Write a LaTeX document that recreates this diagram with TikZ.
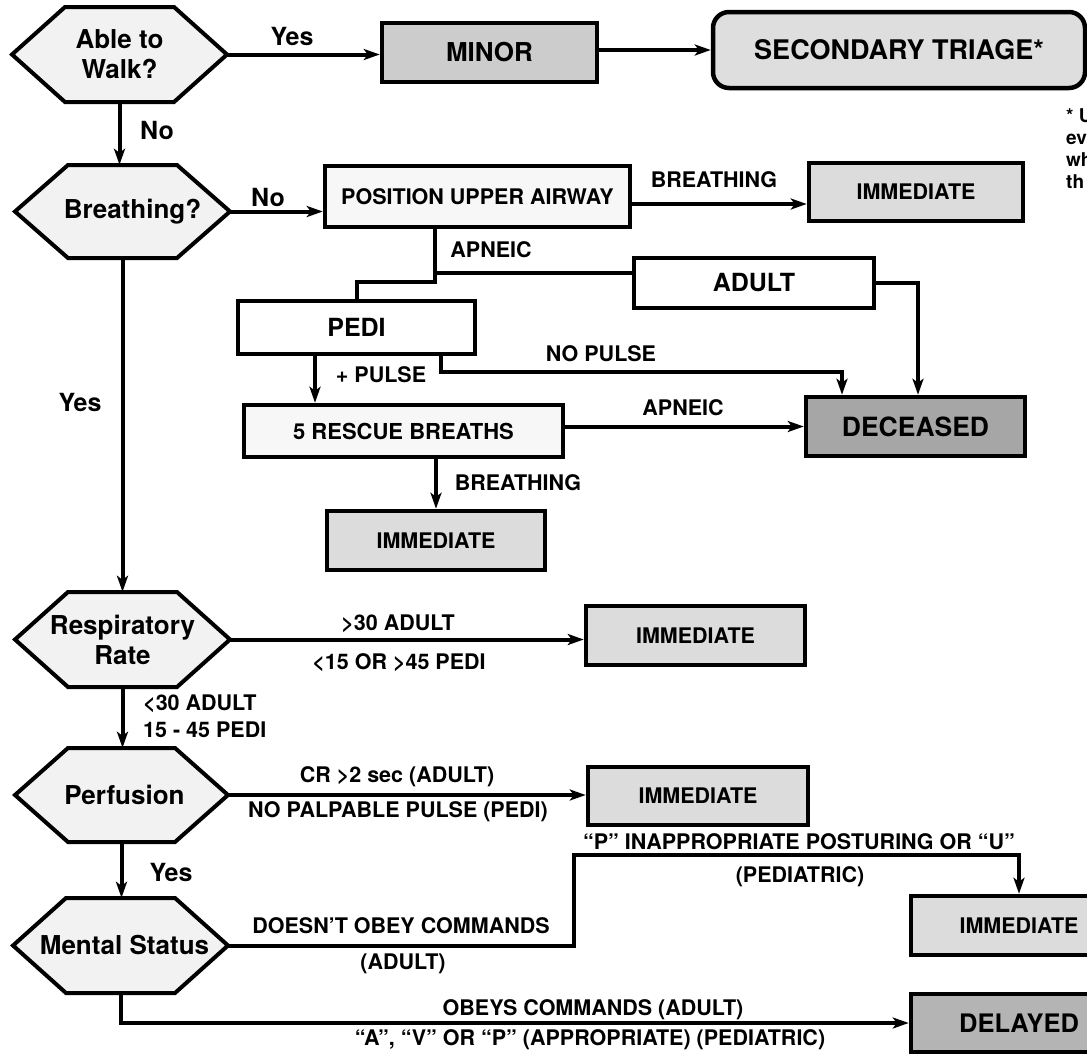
\documentclass[tikz,border=0pt]{standalone}
\usepackage{fontspec}
\setmainfont{TeX Gyre Heros}
\usetikzlibrary{arrows.meta,calc}
\definecolor{hexfill}{HTML}{F2F2F2}
\definecolor{palefill}{HTML}{F7F7F7}
\definecolor{minorfill}{HTML}{CCCCCC}
\definecolor{secfill}{HTML}{DEDEDE}
\definecolor{immfill}{HTML}{DCDCDC}
\definecolor{deadfill}{HTML}{A6A6A6}
\definecolor{delfill}{HTML}{B4B4B4}
\newcommand\triagehex[6]{%
  \draw[hexline] (#2-#4/2,#3) -- (#2-#4/2+53,#3-#5/2) -- (#2+#4/2-53,#3-#5/2)
     -- (#2+#4/2,#3) -- (#2+#4/2-53,#3+#5/2) -- (#2-#4/2+53,#3+#5/2) -- cycle;
  \node[hextext, minimum width=#4pt, minimum height=#5pt] (#1) at (#2,#3) {#6};}
\begin{document}
\begin{tikzpicture}[x=1pt,y=-1pt,
  hexline/.style={draw=black, line width=4pt, fill=hexfill, line join=miter},
  hextext/.style={inner sep=0pt, align=center, font=\bfseries\fontsize{26}{30}\selectfont},
  tbox/.style={draw=black, line width=4.5pt, inner sep=0pt, align=center},
  bigtxt/.style={font=\bfseries\fontsize{26}{30}\selectfont},
  midtxt/.style={font=\bfseries\fontsize{25}{28}\selectfont},
  smalltxt/.style={font=\bfseries\fontsize{21.5}{24}\selectfont},
  lab/.style={inner sep=0pt, anchor=base, font=\bfseries\fontsize{21.5}{24}\selectfont},
  notetxt/.style={inner sep=0pt, anchor=base west, font=\bfseries\fontsize{19}{22}\selectfont},
  yn/.style={inner sep=0pt, anchor=base, font=\bfseries\fontsize{25}{28}\selectfont},
  conn/.style={line width=4pt},
  arr/.style={conn, -{Stealth[length=16pt,width=11pt,inset=4pt]}}]
\useasboundingbox (0,0) rectangle (1087,1053);
\clip (0,0) rectangle (1087,1053);

% decision hexagons
\triagehex{walk}{119.5}{54.5}{215}{95}{Able to\\Walk?}
\triagehex{breath}{122.5}{211.5}{215}{93}{\hspace*{20pt}Breathing?}
\triagehex{resp}{122.5}{639.5}{215}{95}{Respiratory\\Rate}
\triagehex{perf}{121.5}{795}{213}{94}{\hspace*{6pt}Perfusion}
\triagehex{mental}{120.5}{945.5}{215}{95}{\hspace*{8pt}Mental Status}

% boxes
\node[tbox, bigtxt, fill=minorfill, minimum width=215pt, minimum height=59pt] (minor) at (489.5,52.5) {MINOR};
\node[tbox, font=\bfseries\fontsize{27}{30}\selectfont, fill=secfill, rounded corners=16pt, minimum width=372pt, minimum height=76pt] (sec) at (899,50) {SECONDARY TRIAGE*};
\node[tbox, smalltxt, fill=palefill, minimum width=305pt, minimum height=61pt] (position) at (477.5,196.5) {POSITION UPPER AIRWAY};
\node[tbox, smalltxt, fill=immfill, minimum width=214pt, minimum height=58pt] (imm1) at (916,192) {IMMEDIATE};
\node[tbox, midtxt, fill=white, minimum width=240pt, minimum height=50pt] (adult) at (754,283) {ADULT};
\node[tbox, midtxt, fill=white, minimum width=237pt, minimum height=53pt] (pedi) at (356.5,327.5) {PEDI};
\node[tbox, font=\bfseries\fontsize{22}{24}\selectfont, fill=palefill, minimum width=319pt, minimum height=52pt] (rescue) at (403.5,431) {5 RESCUE BREATHS};
\node[tbox, font=\bfseries\fontsize{26.5}{30}\selectfont, fill=deadfill, minimum width=219pt, minimum height=59pt] (deceased) at (915.5,426.5) {DECEASED};
\node[tbox, smalltxt, fill=immfill, minimum width=218pt, minimum height=59pt] (imm2) at (436,540.5) {IMMEDIATE};
\node[tbox, smalltxt, fill=immfill, minimum width=219pt, minimum height=59pt] (imm3) at (695.5,635.5) {IMMEDIATE};
\node[tbox, smalltxt, fill=immfill, minimum width=220pt, minimum height=58pt] (imm4) at (698,796) {IMMEDIATE};
\node[tbox, smalltxt, fill=immfill, minimum width=216pt, minimum height=59pt] (imm5) at (1019,925.5) {IMMEDIATE};
\node[tbox, font=\bfseries\fontsize{25.5}{28}\selectfont, fill=delfill, minimum width=216pt, minimum height=58pt] (delayed) at (1019,1023) {DELAYED};

% footnote (cut off at the right edge, as in the original)
\node[notetxt] (note1) at (1066,122) {* U};
\node[notetxt] (note2) at (1066,144) {ev};
\node[notetxt] (note3) at (1066,166) {wh};
\node[notetxt] (note4) at (1066,188) {th};

% junction coordinates
\coordinate (apj) at (435,282);
\coordinate (apb) at (435,273);
\coordinate (mbend) at (574,855);
\coordinate (pos_out) at ($(position.east)+(0,7.5)$);
\coordinate (pedi_out) at ($(pedi.south)+(-41.5,0)$);
\coordinate (pedi_np) at ($(pedi.south)+(84.5,0)$);
\coordinate (dec_np) at ($(deceased.north)+(-73.5,0)$);
\coordinate (dec_ad) at ($(deceased.north)+(2.5,0)$);

% connectors
\draw[arr] (walk.east) -- (walk.east -| minor.west);
\draw[arr] (minor.east |- sec.west) -- (sec.west);
\draw[arr] (walk.south) -- (walk.south |- breath.north);
\draw[arr] (breath.east) -- (breath.east -| position.west);
\draw[arr] (pos_out) -- (pos_out -| imm1.west);
\draw[conn, line join=miter] (position.south -| apj) -- (apj) -- (apj -| pedi.north) -- (pedi.north);
\draw[conn] (apb) -- (apb -| adult.west);
\draw[arr] (adult.east) -| (dec_ad);
\draw[arr] (pedi_np) -- ++(0,16) -| (dec_np);
\draw[arr] (pedi_out) -- (pedi_out |- rescue.north);
\draw[arr] (rescue.east |- deceased.west) -- (deceased.west);
\draw[arr] (rescue.south -| imm2.north) -- (imm2.north);
\draw[arr] (breath.south) -- (breath.south |- resp.north);
\draw[arr] (resp.east) -- (resp.east -| imm3.west);
\draw[arr] (resp.south) -- (resp.south |- perf.north);
\draw[arr] (perf.east) -- (perf.east -| imm4.west);
\draw[arr] (perf.south) -- (perf.south |- mental.north);
\draw[arr] (mental.east) -| (mbend) -| (imm5.north);
\draw[arr] (mental.south) |- (delayed.west);

% connector labels
\node[yn] (lyes1) at (292,45) {Yes};
\node[yn] (lno1) at (157,139) {No};
\node[yn] (lno2) at (268,206) {No};
\node[lab] (lbr1) at (714,187.7) {BREATHING};
\node[lab] (lap1) at (491,257.7) {APNEIC};
\node[lab] (lnop) at (601,361.7) {NO PULSE};
\node[lab] (lpp) at (381,382.7) {+ PULSE};
\node[lab] (lap2) at (683,415.7) {APNEIC};
\node[lab] (lbr2) at (518,490.7) {BREATHING};
\node[yn] (lyes2) at (80,411) {Yes};
\node[lab] (lr1) at (398,630.7) {>30 ADULT};
\node[lab] (lr2) at (399,669.7) {<15 OR >45 PEDI};
\node[lab, anchor=base west] (lr3) at (143,710.7) {<30 ADULT};
\node[lab, anchor=base west] (lr4) at (143,737.7) {15 - 45 PEDI};
\node[lab] (lp1) at (397,782.7) {CR >2 sec (ADULT)};
\node[lab] (lp2) at (398,817.7) {NO PALPABLE PULSE (PEDI)};
\node[yn] (lyes3) at (171,881) {Yes};
\node[lab] (lm1) at (401,933.7) {DOESN’T OBEY COMMANDS};
\node[lab] (lm2) at (403,969.7) {(ADULT)};
\node[lab] (lm3) at (799,849.7) {“P” INAPPROPRIATE POSTURING OR “U”};
\node[lab] (lm4) at (800,882.7) {(PEDIATRIC)};
\node[lab] (lm5) at (593,1015.7) {OBEYS COMMANDS (ADULT)};
\node[lab] (lm6) at (590,1045.7) {“A”, “V” OR “P” (APPROPRIATE) (PEDIATRIC)};
\end{tikzpicture}
\end{document}
